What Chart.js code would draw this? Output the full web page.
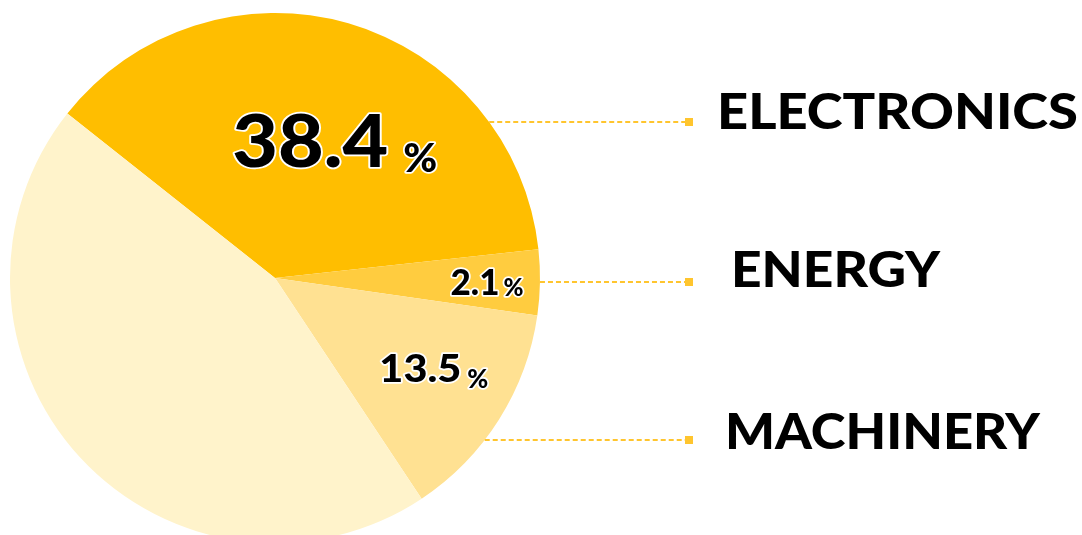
<!DOCTYPE html>
<html>
<head>
<meta charset="utf-8">
<script src="https://cdn.jsdelivr.net/npm/chart.js@4.4.0/dist/chart.umd.min.js"></script>
<style>
  html, body { margin: 0; padding: 0; background: #fff; overflow: hidden; }
  #wrap { position: relative; width: 1082px; height: 560px; }
</style>
</head>
<body>
<div id="wrap"><canvas id="pie"></canvas></div>
<script>
// slice shares as drawn, and the printed labels
const categories = ['Electronics', 'Energy', 'Machinery', 'Other'];
const shares = [37.6, 4.0, 13.4, 45.0];
const shareLabels = ['38.4', '2.1', '13.5', null];
const legendNames = ['ELECTRONICS', 'ENERGY', 'MACHINERY'];
const sliceColors = ['#ffbe00', '#ffcc3f', '#ffe192', '#fff3cb'];

const FONT = "Lato, 'DejaVu Sans', sans-serif";
const WEIGHT = '900';
const lineColor = '#ffc52e';

// where the percent labels sit inside their slices
const pctStyle = [
  { frac: 0.565, nudge: 7.4, numSize: 72, numW: 156, pctSize: 40, pctW: 34, gap: 15, drop: 5 },
  { frac: 0.80, nudge: 0, numSize: 36, numW: 49, pctSize: 24, pctW: 20, gap: 4, drop: 1 },
  { frac: 0.69, nudge: -2.6, numSize: 38, numW: 82, pctSize: 26, pctW: 21, gap: 6, drop: 6 }
];
// right-hand names and their leader lines
const legendStyle = [
  { lineY: 122, x: 717, base: 129, w: 361, size: 50 },
  { lineY: 282, x: 731, base: 287, w: 209, size: 49 },
  { lineY: 440, x: 725, base: 449, w: 315, size: 49 }
];

function fitText(ctx, txt, x, base, w, size, outline) {
  ctx.font = WEIGHT + ' ' + size + 'px ' + FONT;
  const m = ctx.measureText(txt).width;
  ctx.save();
  ctx.translate(x, base);
  ctx.scale(w / m, 1);
  ctx.textAlign = 'left';
  ctx.textBaseline = 'alphabetic';
  if (outline) {
    ctx.lineJoin = 'round';
    ctx.lineWidth = 3.5;
    ctx.strokeStyle = '#ffffff';
    ctx.strokeText(txt, 0, 0);
  }
  ctx.fillStyle = '#000';
  ctx.fillText(txt, 0, 0);
  ctx.restore();
}

const labelPlugin = {
  id: 'labels',
  afterDraw(chart) {
    const ctx = chart.ctx;
    const meta = chart.getDatasetMeta(0);
    const a0 = meta.data[0];
    const cx = a0.x, cy = a0.y, r = a0.outerRadius;

    // percent labels
    shareLabels.forEach((lab, i) => {
      if (!lab) return;
      const a = meta.data[i];
      const s = pctStyle[i];
      const mid = (a.startAngle + a.endAngle) / 2 + s.nudge * Math.PI / 180;
      const ax = cx + Math.cos(mid) * r * s.frac;
      const ay = cy + Math.sin(mid) * r * s.frac;
      const total = s.numW + s.gap + s.pctW;
      const left = ax - total / 2;
      const base = ay + s.numSize * 0.72 / 2;
      fitText(ctx, lab, left, base, s.numW, s.numSize, true);
      fitText(ctx, '%', left + s.numW + s.gap, base + s.drop, s.pctW, s.pctSize, true);
    });

    // leader lines + names
    legendNames.forEach((name, i) => {
      const s = legendStyle[i];
      const dy = s.lineY - cy;
      const x0 = cx + Math.sqrt(Math.max(0, r * r - dy * dy));
      ctx.save();
      ctx.strokeStyle = lineColor;
      ctx.lineWidth = 2;
      ctx.setLineDash([5, 3]);
      ctx.beginPath();
      ctx.moveTo(x0, s.lineY);
      ctx.lineTo(685, s.lineY);
      ctx.stroke();
      ctx.setLineDash([]);
      ctx.fillStyle = lineColor;
      ctx.fillRect(685, s.lineY - 4, 8, 8);
      ctx.restore();
      fitText(ctx, name, s.x, s.base, s.w, s.size, false);
    });
  }
};

new Chart(document.getElementById('pie'), {
  type: 'pie',
  data: {
    labels: categories,
    datasets: [{
      data: shares,
      backgroundColor: sliceColors,
      borderWidth: 0
    }]
  },
  options: {
    responsive: true,
    maintainAspectRatio: false,
    animation: false,
    rotation: -51.6,
    layout: { padding: { top: 13, bottom: 17, left: 10, right: 542 } },
    plugins: { legend: { display: false }, tooltip: { enabled: false } }
  },
  plugins: [labelPlugin]
});
</script>
</body>
</html>
